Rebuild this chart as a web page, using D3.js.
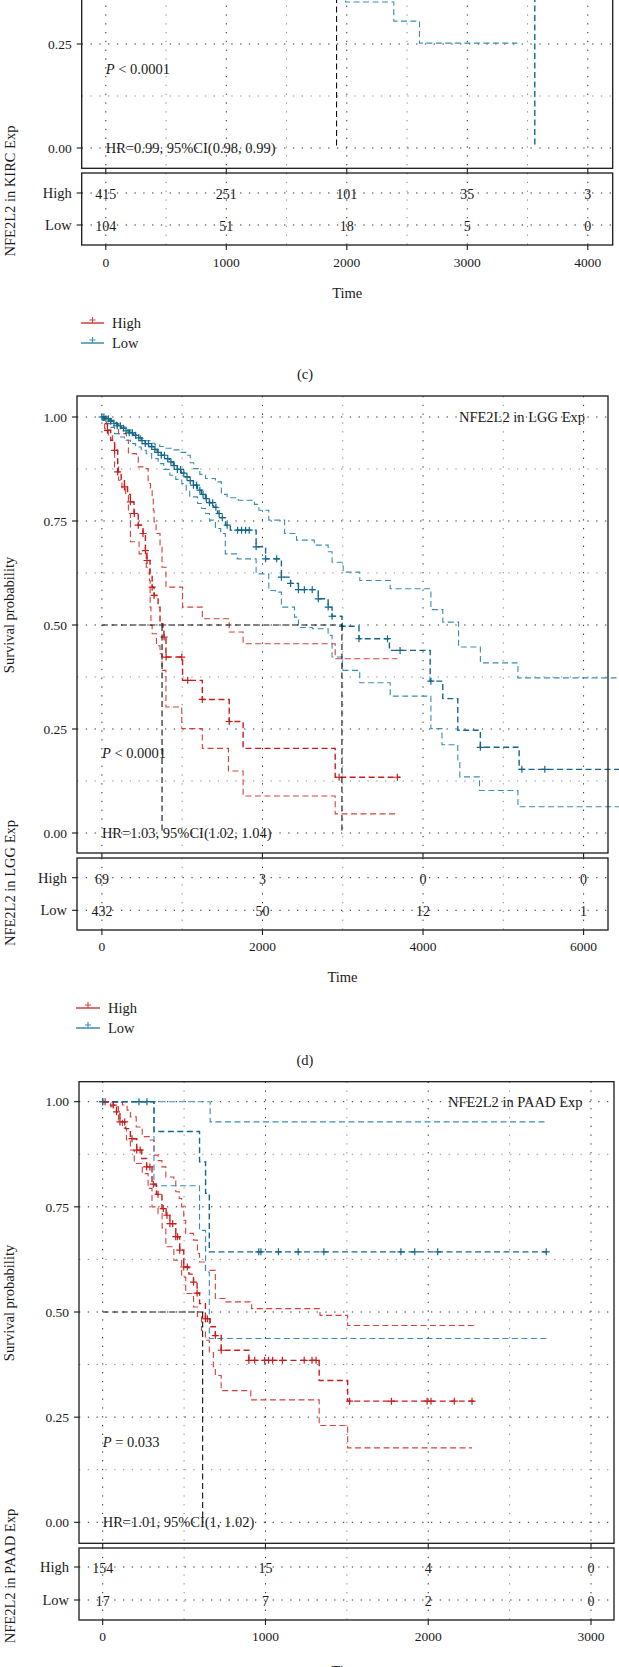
<!DOCTYPE html>
<html>
<head>
<meta charset="utf-8">
<script src="https://cdn.jsdelivr.net/npm/d3@7"></script>
<style>
  body { margin: 0; background: #fff; }
  text { font-family: "Liberation Serif", "DejaVu Serif", serif; fill: #1a1a1a; }
</style>
</head>
<body>
<div id="chart"></div>
<script>
// ---------- data ----------
var groups = ["High", "Low"];

// KIRC: only the bottom of this panel is in view
var kircTicks = [0, 1000, 2000, 3000, 4000];
var kircRiskHigh = [415, 251, 101, 35, 3];
var kircRiskLow = [104, 51, 18, 5, 0];
var kircMedian = [1915];
var kircLowLower = [[1900, 0.42], [1990, 0.351], [2390, 0.305], [2603, 0.252], [3416, 0.252]];
var kircLowEst = [[3300, 0.45], [3560, 0], [3560, 0]];

// LGG
var lggTicks = [0, 2000, 4000, 6000];
var lggRiskHigh = [69, 3, 0, 0];
var lggRiskLow = [432, 50, 12, 1];
var lggMedian = [749, 2990];
var lggHighEst = [[0, 1], [30, 0.984], [69, 0.968], [110, 0.944], [158, 0.92], [197, 0.868], [240, 0.85], [281, 0.832],
  [320, 0.814], [355, 0.796], [400, 0.768], [453, 0.74], [512, 0.72], [542, 0.679], [562, 0.655], [600, 0.62],
  [626, 0.591], [650, 0.571], [700, 0.543], [724, 0.503], [759, 0.495], [773, 0.471], [798, 0.423], [1005, 0.367],
  [1251, 0.321], [1586, 0.268], [1759, 0.2035], [2906, 0.134], [3714, 0.134]];
var lggHighUpper = [[0, 1], [100, 0.992], [158, 0.984], [207, 0.96], [305, 0.944], [330, 0.912], [429, 0.904], [453, 0.88],
  [552, 0.876], [576, 0.84], [605, 0.824], [626, 0.808], [640, 0.776], [650, 0.748], [675, 0.72], [724, 0.688],
  [749, 0.639], [798, 0.591], [1005, 0.543], [1251, 0.515], [1586, 0.483], [1759, 0.455], [2906, 0.419], [3680, 0.419]];
var lggHighLower = [[0, 1], [10, 0.996], [34, 0.972], [80, 0.955], [133, 0.94], [158, 0.88], [207, 0.848], [250, 0.83],
  [296, 0.816], [330, 0.768], [355, 0.7], [463, 0.671], [552, 0.639], [591, 0.607], [601, 0.543], [611, 0.499],
  [626, 0.479], [680, 0.45], [724, 0.431], [749, 0.391], [798, 0.303], [995, 0.251], [1251, 0.2035], [1576, 0.149],
  [1759, 0.089], [2906, 0.046], [3680, 0.046]];
var lggHighCens = [69, 158, 197, 281, 355, 404, 453, 512, 542, 562, 626, 650, 775, 800, 995, 1069, 1251, 1586, 2955, 3680];
var lggLowEst = [[0, 1], [40, 0.996], [90, 0.99], [140, 0.985], [190, 0.979], [240, 0.973], [290, 0.967], [340, 0.962],
  [390, 0.956], [440, 0.95], [490, 0.943], [540, 0.936], [590, 0.929], [640, 0.922], [690, 0.915], [740, 0.908],
  [790, 0.9], [840, 0.892], [890, 0.883], [940, 0.874], [990, 0.865], [1040, 0.856], [1090, 0.847], [1140, 0.836],
  [1190, 0.824], [1240, 0.814], [1290, 0.804], [1340, 0.794], [1390, 0.783], [1440, 0.768], [1470, 0.758],
  [1540, 0.74], [1600, 0.728], [1921, 0.688], [2039, 0.659], [2236, 0.615], [2350, 0.6], [2448, 0.585], [2695, 0.563],
  [2818, 0.543], [2867, 0.521], [2990, 0.497], [3202, 0.467], [3581, 0.439], [4089, 0.365], [4246, 0.323],
  [4433, 0.247], [4714, 0.206], [5197, 0.153], [6500, 0.153]];
var lggLowUpper = [[0, 1], [60, 0.995], [120, 0.99], [180, 0.983], [240, 0.976], [300, 0.969], [360, 0.962], [420, 0.955],
  [480, 0.949], [540, 0.943], [600, 0.937], [660, 0.933], [720, 0.929], [800, 0.925], [880, 0.921], [960, 0.915],
  [1044, 0.908], [1100, 0.89], [1143, 0.876], [1220, 0.862], [1291, 0.852], [1414, 0.844], [1488, 0.814],
  [1560, 0.806], [1700, 0.8], [1900, 0.79], [1956, 0.776], [2079, 0.752], [2276, 0.72], [2424, 0.704], [2645, 0.692],
  [2818, 0.676], [2867, 0.651], [3005, 0.627], [3212, 0.607], [3591, 0.587], [4098, 0.537], [4246, 0.507],
  [4443, 0.447], [4714, 0.409], [5182, 0.373], [6500, 0.373]];
var lggLowLower = [[0, 1], [10, 0.992], [60, 0.984], [110, 0.975], [158, 0.96], [220, 0.952], [280, 0.944], [355, 0.936],
  [420, 0.928], [490, 0.92], [552, 0.912], [620, 0.9], [700, 0.888], [770, 0.874], [847, 0.86], [920, 0.85],
  [995, 0.84], [1050, 0.824], [1094, 0.808], [1192, 0.792], [1240, 0.78], [1291, 0.768], [1340, 0.752],
  [1414, 0.732], [1480, 0.72], [1537, 0.671], [1685, 0.659], [1921, 0.623], [2079, 0.583], [2160, 0.579],
  [2236, 0.543], [2399, 0.519], [2448, 0.494], [2621, 0.491], [2818, 0.475], [2867, 0.423], [2995, 0.391],
  [3212, 0.361], [3591, 0.329], [4098, 0.251], [4236, 0.212], [4433, 0.171], [4458, 0.135], [4704, 0.102],
  [5182, 0.063], [6500, 0.063]];
var lggLowCens = [0, 25, 50, 80, 110, 150, 190, 230, 270, 300, 340, 380, 420, 460, 500, 540, 580, 620, 660, 700, 740,
  780, 820, 860, 900, 940, 980, 1020, 1060, 1100, 1140, 1180, 1220, 1260, 1300, 1340, 1380, 1420, 1460, 1500, 1560,
  1690, 1740, 1790, 1835, 1921, 2039, 2177, 2236, 2350, 2448, 2522, 2620, 2695, 2818, 2867, 2995, 3202, 3557, 3714,
  4098, 4714, 5231, 5517];

// PAAD
var paadTicks = [0, 1000, 2000, 3000];
var paadRiskHigh = [154, 15, 4, 0];
var paadRiskLow = [17, 7, 2, 0];
var paadMedian = [614];
var paadHighEst = [[0, 1], [65, 0.992], [85, 0.976], [106, 0.952], [140, 0.936], [170, 0.912], [209, 0.885], [240, 0.865],
  [270, 0.845], [303, 0.804], [330, 0.78], [364, 0.746], [390, 0.73], [413, 0.71], [449, 0.679], [473, 0.647],
  [498, 0.607], [530, 0.59], [558, 0.571], [580, 0.545], [595, 0.52], [631, 0.484], [660, 0.465], [692, 0.444],
  [728, 0.409], [898, 0.385], [1330, 0.337], [1505, 0.288], [2281, 0.288]];
var paadHighUpper = [[0, 1], [49, 0.998], [121, 0.992], [150, 0.98], [170, 0.964], [206, 0.94], [243, 0.917], [291, 0.909],
  [315, 0.873], [340, 0.86], [364, 0.845], [388, 0.821], [437, 0.813], [449, 0.786], [470, 0.77], [485, 0.75],
  [498, 0.718], [510, 0.687], [558, 0.671], [582, 0.639], [595, 0.619], [631, 0.599], [692, 0.532], [752, 0.524],
  [915, 0.508], [1335, 0.492], [1505, 0.468], [2281, 0.468]];
var paadHighLower = [[0, 1], [30, 0.995], [49, 0.988], [97, 0.956], [121, 0.937], [146, 0.909], [170, 0.885], [194, 0.853],
  [243, 0.829], [279, 0.794], [303, 0.75], [340, 0.734], [365, 0.7], [388, 0.655], [437, 0.623], [485, 0.583],
  [510, 0.544], [558, 0.512], [582, 0.488], [607, 0.456], [631, 0.433], [655, 0.405], [680, 0.37], [692, 0.349],
  [728, 0.313], [910, 0.291], [1330, 0.23], [1505, 0.177], [2269, 0.177]];
var paadHighCens = [0, 15, 65, 85, 106, 135, 180, 209, 230, 270, 290, 311, 340, 372, 395, 413, 430, 449, 460, 473, 498,
  520, 558, 580, 631, 643, 692, 728, 898, 934, 995, 1019, 1044, 1104, 1238, 1286, 1311, 1517, 1774, 1993, 2017,
  2160, 2269];
var paadLowEst = [[0, 1], [315, 0.929], [595, 0.857], [632, 0.782], [655, 0.643], [2730, 0.643]];
var paadLowUpper = [[0, 1], [660, 0.952], [2730, 0.952]];
var paadLowLower = [[0, 1], [315, 0.8], [595, 0.694], [632, 0.595], [655, 0.437], [2745, 0.437]];
var paadLowCens = [0, 223, 272, 959, 972, 1080, 1201, 1359, 1832, 1917, 2058, 2725];

// ---------- drawing ----------
var W = 619, H = 1667;
var svg = d3.select("#chart").append("svg").attr("width", W).attr("height", H);
svg.append("rect").attr("width", W).attr("height", H).attr("fill", "#fff");

var colors = {
  High: { est: "#c81d1c", ci: "#d2413c" },
  Low: { est: "#12678a", ci: "#3a8dac" }
};
var dash = "6,3.5";

function stepAt(curve, t) {
  var s = curve[0][1];
  curve.forEach(function (d) { if (d[0] <= t) s = d[1]; });
  return s;
}

// skip texts that would sit above the page (top panel is cut off)
function label(g, x, y, txt, anchor, size) {
  if (y < 0) return null;
  return g.append("text").attr("x", x).attr("y", y).attr("dy", "0.35em")
    .attr("text-anchor", anchor || "start").style("font-size", (size || 13.5) + "px").text(txt);
}

function drawPanel(p) {
  var g = svg.append("g");
  var maxT = p.ticks[p.ticks.length - 1];
  var x = d3.scaleLinear().domain([0, maxT]).range(p.xRange);
  var y = d3.scaleLinear().domain([0, 1]).range(p.yRange);
  var half = (p.ticks[1] - p.ticks[0]) / 2;
  var xMinor = p.ticks.map(function (t) { return t + half; }).filter(function (t) { return x(t) < p.box.right; });
  var yMajor = [0, 0.25, 0.5, 0.75, 1], yMinor = [0.125, 0.375, 0.625, 0.875];
  var b = p.box, r = p.risk;

  // grid, main plot
  function vgrid(vals, col, top, bottom) {
    g.selectAll(null).data(vals).enter().append("line")
      .attr("x1", function (d) { return x(d); }).attr("x2", function (d) { return x(d); })
      .attr("y1", top).attr("y2", bottom)
      .attr("stroke", col).attr("stroke-width", 1).attr("stroke-dasharray", "1.3,7.5");
  }
  function hgrid(ys, col) {
    g.selectAll(null).data(ys).enter().append("line")
      .attr("x1", b.left).attr("x2", b.right).attr("y1", function (d) { return d; }).attr("y2", function (d) { return d; })
      .attr("stroke", col).attr("stroke-width", 1).attr("stroke-dasharray", "1.3,7.5");
  }
  vgrid(xMinor, "#8a8a8a", b.top, b.bottom);
  vgrid(p.ticks, "#2a2a2a", b.top, b.bottom);
  hgrid(yMinor.map(y), "#8a8a8a");
  hgrid(yMajor.map(y), "#2a2a2a");

  // curves: confidence limits, then estimates
  var line = d3.line().x(function (d) { return x(d[0]); }).y(function (d) { return y(d[1]); }).curve(d3.curveStepAfter);
  p.curves.forEach(function (c) {
    g.append("path").datum(c.data).attr("d", line).attr("fill", "none")
      .attr("stroke", c.est ? colors[c.group].est : colors[c.group].ci)
      .attr("stroke-width", c.est ? 1.4 : 1.1).attr("stroke-dasharray", dash);
  });
  // censor marks
  p.censors.forEach(function (c) {
    g.selectAll(null).data(c.times).enter().append("path")
      .attr("d", function (t) {
        var cx = x(t), cy = y(stepAt(c.curve, t));
        return "M" + (cx - 3.5) + "," + cy + "H" + (cx + 3.5) + "M" + cx + "," + (cy - 3.5) + "V" + (cy + 3.5);
      })
      .attr("stroke", colors[c.group].est).attr("stroke-width", 1.2).attr("fill", "none");
  });
  // median lines
  var mMax = d3.max(p.median);
  g.append("line").attr("x1", x(0)).attr("x2", x(mMax)).attr("y1", y(0.5)).attr("y2", y(0.5))
    .attr("stroke", "#111").attr("stroke-width", 1.1).attr("stroke-dasharray", dash);
  g.selectAll(null).data(p.median).enter().append("line")
    .attr("x1", function (d) { return x(d); }).attr("x2", function (d) { return x(d); })
    .attr("y1", y(0.5)).attr("y2", y(0))
    .attr("stroke", "#111").attr("stroke-width", 1.1).attr("stroke-dasharray", dash);

  // frame and axes, main plot
  g.append("rect").attr("x", b.left).attr("y", b.top).attr("width", b.right - b.left).attr("height", b.bottom - b.top)
    .attr("fill", "none").attr("stroke", "#1a1a1a").attr("stroke-width", 1.3);
  yMajor.forEach(function (v) {
    g.append("line").attr("x1", b.left - 5).attr("x2", b.left).attr("y1", y(v)).attr("y2", y(v))
      .attr("stroke", "#1a1a1a").attr("stroke-width", 1.1);
    label(g, b.left - 10, y(v), d3.format(".2f")(v), "end", 13.5);
  });
  p.ticks.forEach(function (t) {
    g.append("line").attr("x1", x(t)).attr("x2", x(t)).attr("y1", b.bottom).attr("y2", b.bottom + 4.5)
      .attr("stroke", "#1a1a1a").attr("stroke-width", 1.1);
  });

  // annotations
  label(g, p.titleX, y(1), p.title, "end", 14.5);
  var pt = label(g, x(0), p.pY, "", "start", 14.5);
  pt.append("tspan").style("font-style", "italic").text("P");
  pt.append("tspan").text(p.pText);
  label(g, x(0), y(0), p.hr, "start", 14.5);

  // risk table
  var rowY = { High: r.high, Low: r.low };
  vgrid(xMinor, "#8a8a8a", r.top, r.bottom);
  vgrid(p.ticks, "#2a2a2a", r.top, r.bottom);
  hgrid([r.high, r.low], "#2a2a2a");
  g.append("rect").attr("x", b.left).attr("y", r.top).attr("width", b.right - b.left).attr("height", r.bottom - r.top)
    .attr("fill", "none").attr("stroke", "#1a1a1a").attr("stroke-width", 1.3);
  groups.forEach(function (gr) {
    g.append("line").attr("x1", b.left - 5).attr("x2", b.left).attr("y1", rowY[gr]).attr("y2", rowY[gr])
      .attr("stroke", "#1a1a1a").attr("stroke-width", 1.1);
    label(g, b.left - 10, rowY[gr], gr, "end", 14.5);
    p.riskCounts[gr].forEach(function (n, i) {
      label(g, x(p.ticks[i]), rowY[gr] + 1, n, "middle", 14);
    });
  });
  p.ticks.forEach(function (t) {
    g.append("line").attr("x1", x(t)).attr("x2", x(t)).attr("y1", r.bottom).attr("y2", r.bottom + 5)
      .attr("stroke", "#1a1a1a").attr("stroke-width", 1.1);
    label(g, x(t), r.tickY, t, "middle", 13.5);
  });
  label(g, (b.left + b.right) / 2, r.timeY, "Time", "middle", 14.5);

  // axis titles
  if (p.survTitleY !== null) {
    g.append("text").attr("transform", "translate(14," + p.survTitleY + ") rotate(-90)")
      .attr("text-anchor", "middle").style("font-size", "14.5px").text("Survival probability");
  }
  g.append("text").attr("transform", "translate(15," + p.riskTitleY + ") rotate(-90)")
    .attr("text-anchor", "middle").style("font-size", "14.5px").text(p.title);

  // legend
  if (p.legend) {
    groups.forEach(function (gr, i) {
      var ly = p.legend.y[i];
      g.append("line").attr("x1", p.legend.x0).attr("x2", p.legend.x1).attr("y1", ly).attr("y2", ly)
        .attr("stroke", colors[gr].ci).attr("stroke-width", 1.5);
      var mx = (p.legend.x0 + p.legend.x1) / 2;
      g.append("path").attr("d", "M" + (mx - 3) + "," + (ly - 3) + "H" + (mx + 3) + "M" + mx + "," + (ly - 6) + "V" + ly)
        .attr("stroke", colors[gr].ci).attr("stroke-width", 1.1);
      label(g, p.legend.x1 + 8, ly, gr, "start", 14.5);
    });
  }
  if (p.sub) label(g, p.sub.x, p.sub.y, p.sub.text, "middle", 14.5);
}

drawPanel({
  ticks: kircTicks, xRange: [105.8, 587.8], yRange: [148, -268],
  box: { left: 81.7, right: 612.7, top: -320, bottom: 168.3 },
  risk: { top: 173, bottom: 245, high: 193, low: 225, tickY: 262, timeY: 293 },
  riskCounts: { High: kircRiskHigh, Low: kircRiskLow },
  curves: [
    { group: "Low", est: false, data: kircLowLower },
    { group: "Low", est: true, data: kircLowEst }
  ],
  censors: [],
  median: kircMedian,
  title: "NFE2L2 in KIRC Exp", titleX: 585,
  pY: 69, pText: " < 0.0001", hr: "HR=0.99, 95%CI(0.98, 0.99)",
  survTitleY: null, riskTitleY: 191,
  legend: { x0: 81, x1: 104, y: [323, 343] },
  sub: { x: 305, y: 374, text: "(c)" }
});

drawPanel({
  ticks: lggTicks, xRange: [101.9, 583.6], yRange: [833, 417],
  box: { left: 77, right: 608, top: 396, bottom: 853 },
  risk: { top: 858, bottom: 930, high: 877.7, low: 910.3, tickY: 946.7, timeY: 977 },
  riskCounts: { High: lggRiskHigh, Low: lggRiskLow },
  curves: [
    { group: "High", est: false, data: lggHighUpper },
    { group: "High", est: false, data: lggHighLower },
    { group: "Low", est: false, data: lggLowUpper },
    { group: "Low", est: false, data: lggLowLower },
    { group: "High", est: true, data: lggHighEst },
    { group: "Low", est: true, data: lggLowEst }
  ],
  censors: [
    { group: "High", curve: lggHighEst, times: lggHighCens },
    { group: "Low", curve: lggLowEst, times: lggLowCens }
  ],
  median: lggMedian,
  title: "NFE2L2 in LGG Exp", titleX: 585,
  pY: 753, pText: " < 0.0001", hr: "HR=1.03, 95%CI(1.02, 1.04)",
  survTitleY: 615, riskTitleY: 883,
  legend: { x0: 76, x1: 100, y: [1008, 1028] },
  sub: { x: 305, y: 1060, text: "(d)" }
});

drawPanel({
  ticks: paadTicks, xRange: [102.7, 591], yRange: [1522.3, 1101.7],
  box: { left: 79, right: 614, top: 1081.7, bottom: 1543.3 },
  risk: { top: 1548, bottom: 1620, high: 1567, low: 1600, tickY: 1636.7, timeY: 1671 },
  riskCounts: { High: paadRiskHigh, Low: paadRiskLow },
  curves: [
    { group: "High", est: false, data: paadHighUpper },
    { group: "High", est: false, data: paadHighLower },
    { group: "Low", est: false, data: paadLowUpper },
    { group: "Low", est: false, data: paadLowLower },
    { group: "High", est: true, data: paadHighEst },
    { group: "Low", est: true, data: paadLowEst }
  ],
  censors: [
    { group: "High", curve: paadHighEst, times: paadHighCens },
    { group: "Low", curve: paadLowEst, times: paadLowCens }
  ],
  median: paadMedian,
  title: "NFE2L2 in PAAD Exp", titleX: 582.5,
  pY: 1442, pText: " = 0.033", hr: "HR=1.01, 95%CI(1, 1.02)",
  survTitleY: 1303, riskTitleY: 1576,
  legend: null, sub: null
});
</script>
</body>
</html>
